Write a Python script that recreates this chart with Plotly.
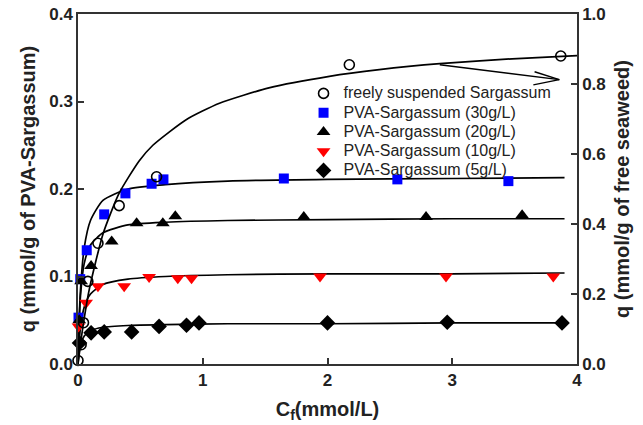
import plotly.graph_objects as go

# ---- measured data (left axis: mmol/g of PVA-Sargassum; right axis: mmol/g of free seaweed)
free_x = [0.0, 0.025, 0.044, 0.079, 0.16, 0.33, 0.63, 2.175, 3.87]
free_y = [0.01, 0.055, 0.118, 0.236, 0.345, 0.4525, 0.535, 0.855, 0.88]

s30_x = [0.004, 0.018, 0.07, 0.21, 0.38, 0.59, 0.685, 1.65, 2.56, 3.45]
s30_y = [0.053, 0.097, 0.13, 0.171, 0.195, 0.206, 0.211, 0.212, 0.211, 0.209]

s20_x = [0.01, 0.025, 0.105, 0.27, 0.47, 0.68, 0.78, 1.81, 2.79, 3.56]
s20_y = [0.05, 0.0945, 0.112, 0.14, 0.161, 0.161, 0.169, 0.168, 0.168, 0.17]

s10_x = [0.004, 0.065, 0.16, 0.37, 0.57, 0.8, 0.91, 1.94, 2.95, 3.81]
s10_y = [0.043, 0.07, 0.089, 0.089, 0.0995, 0.098, 0.098, 0.1, 0.1, 0.1]

s5_x = [0.012, 0.105, 0.21, 0.43, 0.65, 0.87, 0.97, 2.0, 2.96, 3.88]
s5_y = [0.024, 0.0356, 0.0367, 0.0367, 0.043, 0.0443, 0.047, 0.047, 0.0477, 0.047]

# fitted curves
fit_free_x = [0.0, 0.02, 0.05, 0.092, 0.2, 0.33, 0.49, 0.6, 0.867, 1.134, 1.53, 2.015, 2.415, 2.9, 3.48, 4.0]
fit_free_y = [0.0, 0.057, 0.131, 0.216, 0.371, 0.488, 0.58, 0.625, 0.698, 0.745, 0.789, 0.822, 0.841, 0.858, 0.872, 0.881]

fit_x = [0.0, 0.005, 0.01, 0.02, 0.05, 0.1, 0.2, 0.4, 0.7, 1.2, 2.0, 3.0, 3.9]
fit30_y = [0.0, 0.029, 0.053, 0.085, 0.133, 0.164, 0.187, 0.2, 0.205, 0.209, 0.211, 0.212, 0.213]
fit20_y = [0.0, 0.030, 0.051, 0.078, 0.115, 0.136, 0.150, 0.159, 0.162, 0.164, 0.165, 0.166, 0.166]
fit10_y = [0.0, 0.015, 0.026, 0.042, 0.065, 0.080, 0.091, 0.097, 0.100, 0.102, 0.103, 0.103, 0.104]
fit5_y = [0.0, 0.008, 0.014, 0.022, 0.032, 0.038, 0.042, 0.044, 0.045, 0.046, 0.046, 0.047, 0.047]

names = ["freely suspended Sargassum", "PVA-Sargassum (30g/L)", "PVA-Sargassum (20g/L)",
         "PVA-Sargassum (10g/L)", "PVA-Sargassum (5g/L)"]

# arrow pointing to the right axis (data coords)
arrow_x = [2.9, 3.858]
arrow_y = [0.342, 0.325]
barb_x = [3.66, 3.65]
barb_y = [0.334, 0.319]

FONT = "Liberation Sans, Arial, sans-serif"

def leg(name):
    return '<span style="font-size:16px">' + name + '</span>'

fig = go.Figure()

line_style = dict(color="black", width=1.7, shape="spline", smoothing=0.6)
for fy in [fit30_y, fit20_y, fit10_y, fit5_y]:
    fig.add_trace(go.Scatter(x=fit_x, y=fy, mode="lines", line=line_style,
                             showlegend=False, hoverinfo="skip"))
fig.add_trace(go.Scatter(x=fit_free_x, y=fit_free_y, mode="lines", line=line_style,
                         yaxis="y2", showlegend=False, hoverinfo="skip"))

fig.add_trace(go.Scatter(x=free_x, y=free_y, mode="markers", name=leg(names[0]), yaxis="y2",
                         marker=dict(symbol="circle-open", size=10, color="black",
                                     line=dict(width=1.6, color="black")),
                         cliponaxis=False))
fig.add_trace(go.Scatter(x=s30_x, y=s30_y, mode="markers", name=leg(names[1]),
                         marker=dict(symbol="square", size=10, color="#0000ff"),
                         cliponaxis=False))
fig.add_trace(go.Scatter(x=s20_x, y=s20_y, mode="markers", name=leg(names[2]),
                         marker=dict(symbol="triangle-up", size=12, color="black"),
                         cliponaxis=False))
fig.add_trace(go.Scatter(x=s10_x, y=s10_y, mode="markers", name=leg(names[3]),
                         marker=dict(symbol="triangle-down", size=12, color="#ff0000"),
                         cliponaxis=False))
fig.add_trace(go.Scatter(x=s5_x, y=s5_y, mode="markers", name=leg(names[4]),
                         marker=dict(symbol="diamond", size=12, color="black"),
                         cliponaxis=False))

# arrow
for bx, by in zip(barb_x, barb_y):
    fig.add_shape(type="line", xref="x", yref="y", x0=bx, y0=by, x1=arrow_x[1], y1=arrow_y[1],
                  line=dict(color="black", width=1.5))
fig.add_shape(type="line", xref="x", yref="y", x0=arrow_x[0], y0=arrow_y[0],
              x1=arrow_x[1], y1=arrow_y[1], line=dict(color="black", width=1.5))

axis_font = dict(family=FONT, size=17, color="#222", weight="bold")
title_font = dict(family=FONT, size=20, color="#222")
axcol = "#333"

fig.update_layout(
    width=643, height=425,
    margin=dict(l=78, r=66, t=14, b=61),
    plot_bgcolor="white", paper_bgcolor="white",
    font=dict(family=FONT, color="#222"),
    xaxis=dict(range=[0, 4], dtick=1, ticks="inside", ticklen=6, tickwidth=1.5, tickcolor=axcol,
               showline=True, linecolor=axcol, linewidth=1.5, mirror=True, showgrid=False,
               zeroline=False, tickfont=axis_font, automargin=False,
               title=dict(text="<b>C<sub>f</sub>(mmol/L)</b>", font=title_font, standoff=13)),
    yaxis=dict(range=[0, 0.4], dtick=0.1, tickformat=".1f", ticks="inside", ticklen=6,
               tickwidth=1.5, tickcolor=axcol, showline=True, linecolor=axcol, linewidth=1.5,
               showgrid=False, zeroline=False, tickfont=axis_font, automargin=False,
               title=dict(text="<b>q (mmol/g of PVA-Sargassum)</b>", font=title_font, standoff=8)),
    yaxis2=dict(range=[0, 1.0], dtick=0.2, tickformat=".1f", overlaying="y", side="right",
                ticks="inside", ticklen=6, tickwidth=1.5, tickcolor=axcol, showline=True,
                linecolor=axcol, linewidth=1.5, showgrid=False, zeroline=False, tickfont=axis_font,
                automargin=False,
                title=dict(text="<b>q (mmol/g of free seaweed)</b>", font=title_font, standoff=10)),
    legend=dict(x=0.452, y=0.815, xanchor="left", yanchor="top", bgcolor="rgba(0,0,0,0)",
                font=dict(family=FONT, size=12.5, color="#222"),
                tracegroupgap=0, itemwidth=30),
    showlegend=True,
)

fig.write_html("out.html")
